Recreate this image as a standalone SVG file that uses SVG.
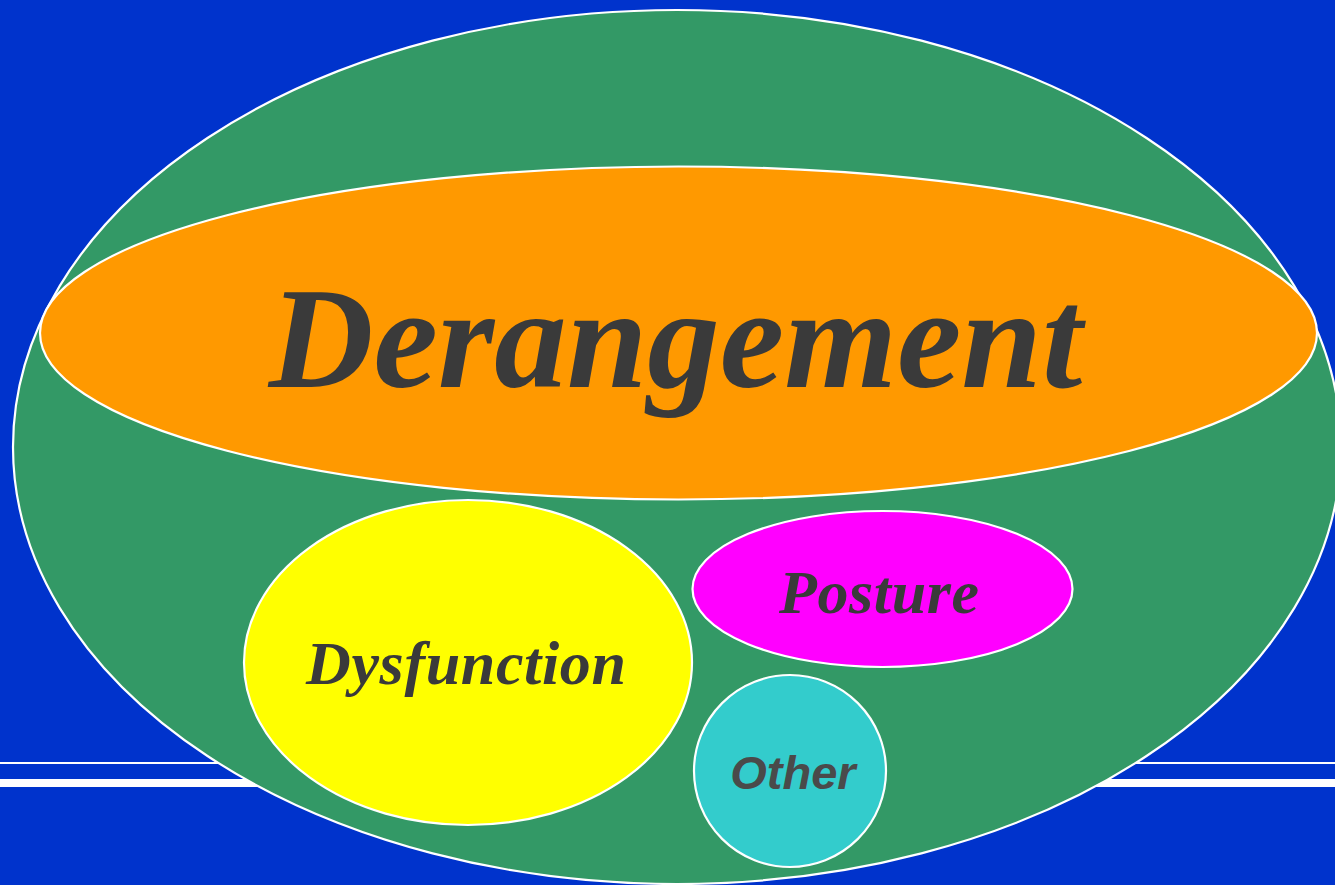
<svg xmlns="http://www.w3.org/2000/svg" width="1335" height="885" viewBox="0 0 1335 885">
<style>
.shape{stroke:#FFFFFF;stroke-width:2.2}
.serif{font-family:"Liberation Serif","Times New Roman",serif;font-weight:bold;font-style:italic;fill:#3A3A3A;text-anchor:middle}
.sans{font-family:"Liberation Sans",Arial,sans-serif;font-weight:bold;font-style:italic;fill:#4A4A4A;text-anchor:middle}
</style>
<rect x="0" y="0" width="1335" height="885" fill="#0033CC"/>
<g id="rules">
<rect x="0" y="762" width="1335" height="2" fill="#FFFFFF"/>
<rect x="0" y="779" width="1335" height="8" fill="#FFFFFF"/>
</g>
<g id="connectors"></g>
<g id="outer">
<ellipse class="shape" cx="677" cy="447" rx="664" ry="437" fill="#339966"/>
</g>
<g id="derangement">
<ellipse class="shape" cx="678.5" cy="333" rx="638.5" ry="166.5" fill="#FF9900"/>
<text class="serif" x="675.5" y="387" font-size="145">Derangement</text>
</g>
<g id="dysfunction">
<ellipse class="shape" cx="468" cy="662.5" rx="224" ry="162.5" fill="#FFFF00"/>
<text class="serif" x="466" y="684" font-size="62" textLength="320" lengthAdjust="spacing">Dysfunction</text>
</g>
<g id="posture">
<ellipse class="shape" cx="882.5" cy="589" rx="190" ry="78" fill="#FF00FF"/>
<text class="serif" x="879" y="613" font-size="62" textLength="200" lengthAdjust="spacing">Posture</text>
</g>
<g id="other">
<circle class="shape" cx="790" cy="771" r="96" fill="#33CCCC"/>
<text class="sans" x="793" y="789" font-size="47">Other</text>
</g>
</svg>
